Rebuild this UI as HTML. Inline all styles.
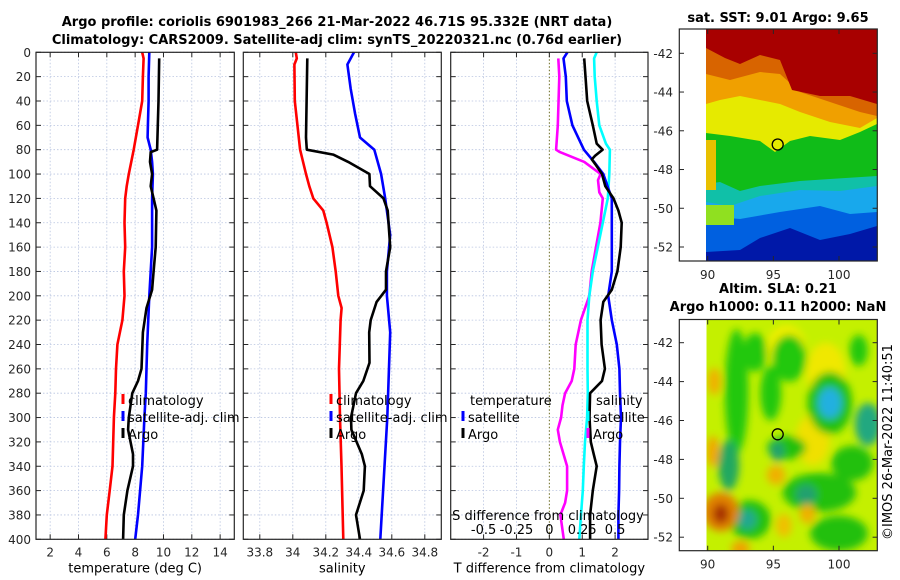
<!DOCTYPE html>
<html><head><meta charset="utf-8">
<style>
html,body{margin:0;padding:0;background:#fff;}
svg{display:block;font-family:"DejaVu Sans","Liberation Sans",sans-serif;}
.tk{font-size:12px;fill:#262626;}
.tt{font-size:13px;font-weight:bold;fill:#000;}
.lg{font-size:13px;fill:#000;}
</style></head>
<body>
<svg id="fig" width="900" height="580" viewBox="0 0 900 580" xmlns="http://www.w3.org/2000/svg">
<defs>
<filter id="blur" x="-50%" y="-50%" width="200%" height="200%"><feGaussianBlur stdDeviation="4"/></filter>
<clipPath id="m1clip"><rect x="706" y="29" width="171" height="232"/></clipPath>
<clipPath id="m2clip"><rect x="706.5" y="319.5" width="170.5" height="231"/></clipPath>
</defs>
<text class="tt" x="337" y="26" text-anchor="middle">Argo profile: coriolis 6901983_266 21-Mar-2022 46.71S 95.332E (NRT data)</text>
<text class="tt" x="337" y="44" text-anchor="middle">Climatology: CARS2009. Satellite-adj clim: synTS_20220321.nc (0.76d earlier)</text>
<g id="panels"></g>
<g id="maps"></g>
<text class="lg" transform="translate(892,540) rotate(-90)">©IMOS 26-Mar-2022 11:40:51</text>
</svg>
<script>
// ---------- data ----------
const depthTicks = [0,20,40,60,80,100,120,140,160,180,200,220,240,260,280,300,320,340,360,380,400];
const tempTicks = [2,4,6,8,10,12,14];
const salTicks = [33.8,34,34.2,34.4,34.6,34.8];
const salTickLabels = ["33.8","34","34.2","34.4","34.6","34.8"];
const tdiffTicks = [-2,-1,0,1,2];
const sdiffTicks = [-0.5,-0.25,0,0.25,0.5];
const sdiffTickLabels = ["-0.5","-0.25","0","0.25","0.5"];

const tClimDepth = [0,5,20,40,60,80,100,110,120,140,160,180,200,220,240,260,280,300,320,340,360,380,400];
const tClimVal = [8.5,8.6,8.55,8.5,8.2,7.9,7.55,7.4,7.3,7.25,7.3,7.2,7.25,7.1,6.75,6.65,6.6,6.5,6.45,6.4,6.2,6.0,5.9];
const tSatDepth = [0,20,40,60,70,80,90,100,120,160,200,240,280,300,340,380,400];
const tSatVal = [9.0,8.95,8.95,8.9,8.88,9.1,9.2,9.25,9.2,9.2,9.0,8.85,8.75,8.65,8.5,8.2,8.0];
const tArgoDepth = [5,40,60,80,82,90,100,110,120,130,160,180,195,210,230,260,270,280,300,310,330,340,360,380,400];
const tArgoVal = [9.7,9.65,9.6,9.55,9.1,9.05,9.2,9.1,9.3,9.5,9.45,9.3,9.2,8.8,8.55,8.45,8.2,7.8,7.55,7.5,7.85,7.85,7.45,7.2,7.15];

const sClimDepth = [0,5,10,40,80,100,110,120,130,140,160,180,200,210,220,260,300,340,400];
const sClimVal = [34.018,34.024,34.01,34.012,34.044,34.08,34.1,34.124,34.185,34.205,34.24,34.26,34.276,34.296,34.29,34.28,34.286,34.295,34.306];
const sSatDepth = [0,10,30,50,70,80,100,120,150,180,200,230,300,400];
const sSatVal = [34.371,34.331,34.351,34.377,34.407,34.494,34.535,34.56,34.59,34.57,34.57,34.59,34.573,34.53];
const sArgoDepth = [5,70,80,84,90,100,110,120,130,160,180,195,205,220,230,255,270,280,300,310,330,340,360,380,400];
const sArgoVal = [34.088,34.08,34.085,34.245,34.336,34.464,34.468,34.55,34.575,34.59,34.565,34.565,34.508,34.472,34.463,34.465,34.427,34.383,34.353,34.355,34.418,34.437,34.43,34.383,34.407];

const dtSatDepth = [0,5,20,40,60,80,90,100,120,140,160,180,200,220,240,260,280,300,320,340,360,380,400];
const dtSatVal = [0.55,0.43,0.5,0.53,0.7,1.05,1.36,1.64,1.9,1.9,1.9,1.9,1.79,1.9,2.05,2.13,2.15,2.18,2.15,2.13,2.12,2.1,2.1];
const dtArgoDepth = [5,20,40,60,75,80,85,88,92,100,110,120,130,140,160,180,195,205,220,240,260,270,280,300,320,330,340,360,380,400];
const dtArgoVal = [1.06,1.1,1.15,1.32,1.44,1.62,1.39,1.29,1.4,1.6,1.7,1.95,2.1,2.2,2.17,2.07,1.9,1.64,1.56,1.59,1.69,1.6,1.24,1.22,1.26,1.35,1.44,1.32,1.24,1.24];
const dsSatDepth = [0,5,20,40,60,75,80,100,120,140,160,180,200,220,260,280,300,320,340,360,380,400];
const dsSatVal = [0.36,0.34,0.345,0.36,0.38,0.43,0.46,0.456,0.444,0.406,0.368,0.33,0.304,0.29,0.29,0.292,0.287,0.271,0.262,0.254,0.241,0.228];
const dsArgoDepth = [5,20,60,80,82,90,100,105,115,120,140,160,180,200,220,240,260,270,280,290,300,310,320,340,360,370,380,400];
const dsArgoVal = [0.068,0.076,0.064,0.051,0.08,0.266,0.39,0.37,0.38,0.406,0.388,0.355,0.322,0.304,0.24,0.2,0.19,0.17,0.12,0.1,0.089,0.064,0.08,0.135,0.135,0.12,0.084,0.11];

const mapLatTicks = [-42,-44,-46,-48,-50,-52];
const mapLonTicks = [90,95,100];
const argoLon = 95.332, argoLat = -46.71;

// ---------- helpers ----------
const NS = "http://www.w3.org/2000/svg";
function mk(tag, attrs, parent){ const e=document.createElementNS(NS,tag); for(const k in attrs) e.setAttribute(k,attrs[k]); parent.appendChild(e); return e; }
const TOP=52.3, BOT=539.3;
const yD = d => TOP + d*(BOT-TOP)/400;
function lin(d0,d1,p0,p1){ return v => p0 + (v-d0)*(p1-p0)/(d1-d0); }

const panelsG = document.getElementById('panels');
function panel(name, x0, x1, xs, xticks, xlabels, xlabel, gridOpts){
  const g = mk('g',{},panelsG);
  
  
  // grid
  xticks.forEach(t=>{
    const gl = mk('line',{x1:xs(t),x2:xs(t),y1:TOP,y2:BOT,stroke:(gridOpts&&gridOpts.zero&&t===0)?'#6b6b20':'#b8c4e0','stroke-width':(gridOpts&&gridOpts.zero&&t===0)?1:0.8,'stroke-dasharray':'1.5,2'},g);
    
    
  });
  depthTicks.forEach(d=>{
    const gl = mk('line',{x1:x0,x2:x1,y1:yD(d),y2:yD(d),stroke:'#b8c4e0','stroke-width':0.8,'stroke-dasharray':'1.5,2'},g);
    
    
    mk('line',{x1:x0,x2:x0+5,y1:yD(d),y2:yD(d),stroke:'#262626','stroke-width':1},g);
    mk('line',{x1:x1-5,x2:x1,y1:yD(d),y2:yD(d),stroke:'#262626','stroke-width':1},g);
  });
  xticks.forEach((t,i)=>{
    mk('line',{x1:xs(t),x2:xs(t),y1:BOT,y2:BOT-5,stroke:'#262626','stroke-width':1},g);
    mk('line',{x1:xs(t),x2:xs(t),y1:TOP,y2:TOP+5,stroke:'#262626','stroke-width':1},g);
    const tx = mk('text',{class:'tk',x:xs(t),y:BOT+17,'text-anchor':'middle'},g);
    tx.textContent = xlabels[i];
    
    
  });
  const lab = mk('text',{class:'lg',x:(x0+x1)/2,y:BOT+33,'text-anchor':'middle','font-size':'13px'},g);
  lab.textContent = xlabel;
  
  
  return g;
}
function frame(g,x0,x1){
  const r = mk('rect',{x:x0,y:TOP,width:x1-x0,height:BOT-TOP,fill:'none',stroke:'#262626','stroke-width':1.2},g);
  
  
}
function series(g, xs, depths, vals, color, name){
  const pts = depths.map((d,i)=> xs(vals[i]).toFixed(1)+','+yD(d).toFixed(1)).join(' ');
  const p = mk('polyline',{points:pts,fill:'none',stroke:color,'stroke-width':2.6,'stroke-linejoin':'round'},g);
  
  
}
function legendRow(g, x, y, color, label, name){
  const m = mk('rect',{x:x-1.5,y:y-11,width:3,height:10,fill:color},g);
  
  
  if(label){
    const t = mk('text',{class:'lg',x:x+5,y:y},g);
    t.textContent = label;
    
    
  }
}

// Panel 1: temperature
const xT = lin(1,15,36,234.3);
const p1 = panel('temperature-panel',36,234.3,xT,tempTicks,tempTicks.map(String),'temperature (deg C)');
depthTicks.forEach(d=>{
  const t = mk('text',{class:'tk',x:31,y:yD(d)+4.5,'text-anchor':'end'},p1);
  t.textContent = d;
  
  
});
series(p1,xT,tClimDepth,tClimVal,'#ff0000','temp-climatology-line');
series(p1,xT,tSatDepth,tSatVal,'#0000ff','temp-satellite-line');
series(p1,xT,tArgoDepth,tArgoVal,'#000000','temp-argo-line');
legendRow(p1,123,405,'#ff0000','climatology','legend-climatology');
legendRow(p1,123,422,'#0000ff','satellite-adj. clim','legend-satellite-adj');
legendRow(p1,123,439,'#000000','Argo','legend-argo');
frame(p1,36,234.3);

// Panel 2: salinity
const xS = lin(33.7,34.9,243.3,441.3);
const p2 = panel('salinity-panel',243.3,441.3,xS,salTicks,salTickLabels,'salinity');
series(p2,xS,sClimDepth,sClimVal,'#ff0000','sal-climatology-line');
series(p2,xS,sSatDepth,sSatVal,'#0000ff','sal-satellite-line');
series(p2,xS,sArgoDepth,sArgoVal,'#000000','sal-argo-line');
legendRow(p2,331,405,'#ff0000','climatology','legend-climatology-2');
legendRow(p2,331,422,'#0000ff','satellite-adj. clim','legend-satellite-adj-2');
legendRow(p2,331,439,'#000000','Argo','legend-argo-2');
frame(p2,243.3,441.3);

// Panel 3: differences
const xDT = lin(-3,3,450.7,648);
const xDS = lin(-0.75,0.75,450.7,648);
const p3 = panel('difference-panel',450.7,648,xDT,tdiffTicks,tdiffTicks.map(String),'T difference from climatology',{zero:true});
series(p3,xDS,dsArgoDepth,dsArgoVal,'#ff00ff','sdiff-argo-line');
series(p3,xDS,dsSatDepth,dsSatVal,'#00ffff','sdiff-satellite-line');
series(p3,xDT,dtSatDepth,dtSatVal,'#0000ff','tdiff-satellite-line');
series(p3,xDT,dtArgoDepth,dtArgoVal,'#000000','tdiff-argo-line');
(function(){
  const t = mk('text',{class:'lg',x:470,y:405},p3); t.textContent='temperature';
  
  
  const s = mk('text',{class:'lg',x:596,y:405},p3); s.textContent='salinity';
  
  
})();
legendRow(p3,463,422,'#0000ff','satellite','legend-tdiff-satellite');
legendRow(p3,463,439,'#000000','Argo','legend-tdiff-argo');
legendRow(p3,588,422,'#00ffff','satellite','legend-sdiff-satellite');
legendRow(p3,588,439,'#ff00ff','Argo','legend-sdiff-argo');
(function(){
  const t = mk('text',{class:'lg',x:548,y:520,'text-anchor':'middle'},p3); t.textContent='S difference from climatology';
  
  
  sdiffTicks.forEach((v,i)=>{
    const l = mk('text',{class:'lg',x:xDS(v),y:534,'text-anchor':'middle'},p3); l.textContent=sdiffTickLabels[i];
    
    
  });
})();
frame(p3,450.7,648);

// ---------- maps ----------
const mapsG = document.getElementById('maps');
const mx = lin(90,100,707.7,839);
function mapAxes(g, top, bottom, my, title1, title2){
  latT: mapLatTicks.forEach(l=>{
    const y = my(l);
    mk('line',{x1:679.3,x2:684,y1:y,y2:y,stroke:'#262626'},g);
    mk('line',{x1:872.6,x2:877.3,y1:y,y2:y,stroke:'#262626'},g);
    const t = mk('text',{class:'tk',x:673,y:y+4.5,'text-anchor':'end'},g); t.textContent=String(l);
    
    
  });
  mapLonTicks.forEach(l=>{
    const x = mx(l);
    mk('line',{x1:x,x2:x,y1:bottom,y2:bottom-5,stroke:'#262626'},g);
    mk('line',{x1:x,x2:x,y1:top,y2:top+5,stroke:'#262626'},g);
    const t = mk('text',{class:'tk',x:x,y:bottom+18,'text-anchor':'middle'},g); t.textContent=String(l);
    
    
  });
  const r = mk('rect',{x:679.3,y:top,width:198,height:bottom-top,fill:'none',stroke:'#262626','stroke-width':1.2},g);
  
  
  const c = mk('ellipse',{cx:mx(argoLon),cy:my(argoLat),rx:5.5,ry:5.5,fill:'none',stroke:'#000','stroke-width':1.3},g);
  
  
}

// Map 1 (SST)
const m1 = mk('g',{},mapsG);


const my1 = lin(-42,-52,53.3,247);
(function(){
  const t = mk('text',{class:'tt',x:778,y:22,'text-anchor':'middle'},m1); t.textContent='sat. SST: 9.01 Argo: 9.65';
  
  
  const img = mk('g',{'clip-path':'url(#m1clip)'},m1);
  
  
  mk('rect',{x:706,y:29,width:171,height:232,fill:'#0018a8'},img);
  const layers = [
    ['#0060e0',[[706,252],[740,250],[760,238],[790,228],[820,240],[850,234],[877,226]]],
    ['#18a8ec',[[706,216],[740,219],[780,212],[820,206],[850,214],[877,212]]],
    ['#10c0a8',[[706,202],[730,206],[760,196],[800,190],[840,191],[877,186]]],
    ['#10bc18',[[706,184],[720,182],[740,191],[760,186],[800,181],[830,179],[877,176]]],
    ['#e6ea00',[[706,133],[730,136],[760,141],[775,152],[790,141],[810,136],[840,140],[860,132],[877,124]]],
    ['#f0a000',[[706,104],[720,100],[740,96],[760,100],[780,104],[800,112],[830,122],[860,128],[877,118]]],
    ['#d86400',[[706,74],[730,80],[760,72],[780,74],[800,92],[830,102],[860,112],[877,116]]],
    ['#a80000',[[706,48],[725,58],[740,64],[760,55],[780,60],[792,90],[820,96],[850,96],[877,104]]]
  ];
  layers.forEach(([col,pts])=>{
    const s = 'M706,29 ' + pts.map(p=>'L'+p[0]+','+p[1]).join(' ') + ' L877,29 Z';
    mk('path',{d:s,fill:col},img);
  });
  mk('rect',{x:706,y:140,width:10,height:50,fill:'#e8c000'},img);
  mk('rect',{x:706,y:205,width:28,height:20,fill:'#90e020'},img);
})();
mapAxes(m1,29,261,my1);

// Map 2 (SLA)
const m2 = mk('g',{},mapsG);


const my2 = lin(-42,-52,342.7,537.2);
(function(){
  const t1 = mk('text',{class:'tt',x:778,y:293,'text-anchor':'middle'},m2); t1.textContent='Altim. SLA: 0.21';
  
  
  const t2 = mk('text',{class:'tt',x:778,y:311,'text-anchor':'middle'},m2); t2.textContent='Argo h1000: 0.11 h2000: NaN';
  
  
  const img = mk('g',{'clip-path':'url(#m2clip)'},m2);
  
  
  mk('rect',{x:706,y:319,width:171,height:232,fill:'#c4f000'},img);
  const bl = mk('g',{filter:'url(#blur)'},img);
  const blobs = [
    [96,-42.3,1.5,1.2,'#f0ee00'],[99,-43.5,1.5,1.5,'#f0e800'],[98,-47,1.3,1.3,'#f0e000'],
    [92.2,-44.5,0.9,3.2,'#20c810'],[91.6,-48.3,0.8,1.3,'#20a860'],[93.6,-42.5,0.9,1,'#20c810'],
    [94.8,-44.6,0.8,1.4,'#20c810'],[96.2,-42.8,1.3,1.2,'#20c810'],[101.5,-42.4,0.7,0.8,'#20c810'],
    [96,-47.4,1.5,0.6,'#20c010'],[95.3,-47.6,0.5,0.5,'#20a070'],
    [99.3,-45.1,1.7,1.6,'#20c010'],[99.3,-45.1,0.9,0.8,'#20b0e0'],
    [102.2,-46.2,1.0,1.1,'#20a880'],[101,-48.2,1.6,0.9,'#20c010'],
    [98.5,-49.7,2.8,1.0,'#20c010'],[97.5,-49.8,0.8,0.5,'#20a070'],
    [93.2,-51.1,1.6,1.0,'#20c010'],[93,-51.1,0.7,0.5,'#20a890'],
    [100,-51.8,2.2,0.9,'#20c010'],[90.5,-44,0.5,0.7,'#f0b000'],
    [91,-50.7,1.4,1.0,'#e08000'],[91,-50.8,0.6,0.5,'#a83000'],
    [90.4,-47.6,0.5,0.8,'#f0a800'],[95.2,-48.8,0.7,0.5,'#f0b000'],
    [95.8,-51.4,0.6,0.6,'#f0c000'],[97.6,-50.8,0.6,0.5,'#f0b000'],[92.5,-52.6,0.7,0.4,'#f0a000']
  ];
  blobs.forEach(b=>{
    const e = mk('ellipse',{cx:mx(b[0]),cy:my2(b[1]),rx:b[2]*13.1,ry:b[3]*19.45,fill:b[4]},bl);
    
    
  });
})();
mapAxes(m2,319.5,550.7,my2);
</script>
</body></html>
